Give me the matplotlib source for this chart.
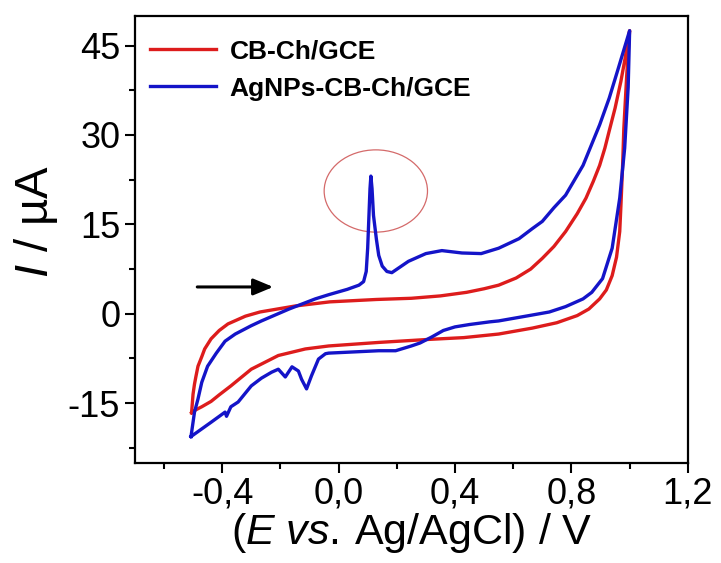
import matplotlib
matplotlib.use("Agg")
from matplotlib import pyplot as plt
from matplotlib.patches import Ellipse
from matplotlib.ticker import MultipleLocator, FuncFormatter

plt.rcParams['font.family'] = ['Liberation Sans', 'DejaVu Sans']
plt.rcParams['axes.unicode_minus'] = False
plt.rcParams['mathtext.fontset'] = 'custom'
plt.rcParams['mathtext.rm'] = 'Liberation Sans'
plt.rcParams['mathtext.it'] = 'Liberation Sans:italic'

# CB-Ch/GCE (red) : forward scan then reverse scan
e_cb = [-0.505, -0.50, -0.495, -0.49, -0.483, -0.47, -0.46, -0.438, -0.41, -0.38,
        -0.32, -0.27, -0.15, -0.03, 0.13, 0.25, 0.35, 0.44, 0.50, 0.55,
        0.61, 0.66, 0.70, 0.74, 0.78, 0.82, 0.85, 0.875, 0.897, 0.915,
        0.93, 0.95, 0.97, 0.985, 1.0,
        0.99, 0.98, 0.976, 0.97, 0.966, 0.955, 0.94, 0.92, 0.897, 0.86,
        0.82, 0.75, 0.666, 0.55, 0.43, 0.31, 0.14, -0.034, -0.114, -0.207,
        -0.30, -0.37, -0.41, -0.438, -0.47, -0.49, -0.505]
i_cb = [-16.6, -13.5, -11.8, -10.5, -8.8, -7.2, -5.9, -4.2, -2.8, -1.7,
        -0.4, 0.3, 1.3, 2.0, 2.4, 2.6, 3.0, 3.6, 4.2, 4.8,
        6.0, 7.5, 9.3, 11.3, 13.8, 16.8, 19.4, 22.2, 24.9, 27.8,
        30.7, 34.5, 39.0, 43.0, 47.5,
        40.0, 31.0, 25.0, 18.0, 13.8, 9.5, 6.4, 4.0, 2.5, 0.8,
        -0.3, -1.5, -2.4, -3.4, -4.0, -4.3, -4.8, -5.4, -5.9, -7.0,
        -9.3, -12.1, -13.6, -14.7, -15.6, -16.1, -16.6]

# AgNPs-CB-Ch/GCE (blue)
e_ag = [-0.507, -0.495, -0.483, -0.47, -0.45, -0.42, -0.39, -0.355, -0.30, -0.265,
        -0.17, -0.08, -0.034, 0.03, 0.07, 0.086, 0.095, 0.100, 0.104, 0.108,
        0.111, 0.115, 0.12, 0.13, 0.138, 0.15, 0.166, 0.183, 0.21, 0.24,
        0.30, 0.355, 0.424, 0.49, 0.55, 0.62, 0.666, 0.70, 0.74, 0.78,
        0.84, 0.897, 0.93, 0.96, 1.0,
        0.995, 0.983, 0.966, 0.94, 0.907, 0.87, 0.84, 0.78, 0.724, 0.655,
        0.55, 0.52, 0.45, 0.40, 0.36, 0.32, 0.28, 0.25, 0.196, 0.138,
        -0.034, -0.045, -0.069, -0.093, -0.11, -0.127, -0.138, -0.16, -0.183, -0.207,
        -0.23, -0.265, -0.30, -0.345, -0.37, -0.385, -0.39, -0.438, -0.507]
i_ag = [-20.6, -16.5, -14.3, -11.5, -8.8, -6.6, -4.6, -3.4, -2.0, -1.2,
        0.8, 2.5, 3.2, 4.1, 4.8, 5.4, 7.1, 11.0, 16.0, 21.0,
        23.1, 21.0, 16.5, 12.5, 9.8, 8.0, 7.1, 6.9, 7.8, 8.8,
        10.1, 10.6, 10.2, 10.1, 11.0, 12.6, 14.3, 15.5, 17.8, 19.9,
        24.9, 31.7, 36.2, 41.0, 47.5,
        38.0, 27.8, 19.4, 11.0, 5.9, 3.6, 2.5, 1.2, 0.3, -0.3,
        -1.2, -1.35, -1.8, -2.2, -2.8, -3.9, -4.9, -5.4, -6.2, -6.2,
        -6.6, -6.7, -7.6, -10.4, -12.6, -11.0, -9.6, -8.9, -10.6, -9.3,
        -9.8, -10.8, -12.1, -14.8, -15.6, -17.2, -16.5, -18.2, -20.6]

fig = plt.figure(figsize=(7.21, 5.63), dpi=100)
ax = fig.add_axes([0.187, 0.178, 0.767, 0.794])

ax.plot(e_cb, i_cb, color='#dd1c1c', lw=2.4, label='CB-Ch/GCE')
ax.plot(e_ag, i_ag, color='#1414c8', lw=2.4, label='AgNPs-CB-Ch/GCE')

# circle around the Ag stripping peak
ax.add_patch(Ellipse((0.128, 20.6), 0.355, 13.8, fill=False,
                     edgecolor='#d46a6a', lw=0.9))
# scan direction arrow
ax.annotate('', xy=(-0.215, 4.5), xytext=(-0.495, 4.5),
            arrowprops=dict(arrowstyle='-|>,head_length=1.2,head_width=0.5',
                            color='black', lw=2.2))

ax.set_xlim(-0.7, 1.2)
ax.set_ylim(-25, 50)
ax.xaxis.set_minor_locator(MultipleLocator(0.2))
ax.yaxis.set_minor_locator(MultipleLocator(7.5))
ax.set_xticks([-0.4, 0.0, 0.4, 0.8, 1.2])
ax.xaxis.set_major_formatter(FuncFormatter(lambda v, p: f"{v:.1f}".replace('.', ',').replace('-0,0', '0,0')))
ax.set_yticks([-15, 0, 15, 30, 45])

ax.tick_params(which='major', direction='out', length=7, width=1.5, labelsize=26)
ax.tick_params(which='minor', direction='out', length=4, width=1.5)
ax.tick_params(axis='x', pad=3)
for s in ax.spines.values():
    s.set_linewidth(1.6)

ax.set_xlabel(r'$(\mathit{E}\ \mathit{vs.}\!\ \mathrm{Ag/AgCl})\ /\ \mathrm{V}$', fontsize=31)
ax.xaxis.set_label_coords(0.5, -0.108)
ax.set_ylabel(r'$\mathit{I}\ /\ \mathrm{µA}$', fontsize=34)
ax.yaxis.set_label_coords(-0.135, 0.54)

leg = ax.legend(loc='upper left', frameon=False, handlelength=2.5,
                prop={'weight': 'bold', 'size': 19}, borderaxespad=0.5,
                bbox_to_anchor=(-0.015, 1.0),
                labelspacing=0.5, handletextpad=0.5)
for line in leg.get_lines():
    line.set_linewidth(2.4)

fig.savefig('out.png', dpi=100)
